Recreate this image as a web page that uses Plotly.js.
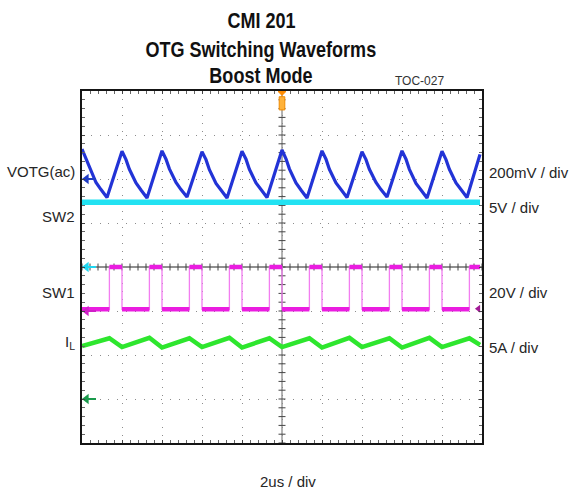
<!DOCTYPE html>
<html>
<head>
<meta charset="utf-8">
<script src="https://cdn.plot.ly/plotly-3.0.1.min.js"></script>
<style>html,body{margin:0;padding:0;background:#fff;}#chart{width:571px;height:492px;}</style>
</head>
<body>
<div id="chart"></div>
<script>
// Time axis in microseconds (2 us / div, 10 div), vertical axis in divisions (8 div)
const votgT = [
  -10, -9.8, -9.63, -9.46, -9.3, -9.05, -8.75,
  -8, -7.8, -7.63, -7.46, -7.3, -7.05, -6.75,
  -6, -5.8, -5.63, -5.46, -5.3, -5.05, -4.75,
  -4, -3.8, -3.63, -3.46, -3.3, -3.05, -2.75,
  -2, -1.8, -1.63, -1.46, -1.3, -1.05, -0.75,
  0, 0.2, 0.37, 0.54, 0.7, 0.95, 1.25,
  2, 2.2, 2.37, 2.54, 2.7, 2.95, 3.25,
  4, 4.2, 4.37, 4.54, 4.7, 4.95, 5.25,
  6, 6.2, 6.37, 6.54, 6.7, 6.95, 7.25,
  8, 8.2, 8.37, 8.54, 8.7, 8.95, 9.25,
  9.9
];
const votgV = [
  2.68, 2.46, 2.24, 2.07, 1.92, 1.76, 1.58,
  2.63, 2.44, 2.22, 2.06, 1.91, 1.75, 1.57,
  2.64, 2.45, 2.23, 2.07, 1.92, 1.76, 1.59,
  2.62, 2.44, 2.21, 2.05, 1.90, 1.75, 1.57,
  2.63, 2.45, 2.22, 2.06, 1.91, 1.76, 1.58,
  2.66, 2.46, 2.23, 2.06, 1.91, 1.75, 1.57,
  2.64, 2.45, 2.22, 2.06, 1.91, 1.76, 1.58,
  2.62, 2.44, 2.22, 2.06, 1.92, 1.76, 1.59,
  2.64, 2.45, 2.22, 2.05, 1.90, 1.75, 1.57,
  2.63, 2.44, 2.22, 2.06, 1.91, 1.76, 1.58,
  2.56
];
const sw2T = [-10, -5, 0, 5, 9.9];
const sw2V = [1.47, 1.47, 1.47, 1.47, 1.47];
const sw1T = [
  -10, -8.63, -8.63, -8, -8, -6.63, -6.63, -6, -6, -4.63, -4.63, -4, -4,
  -2.63, -2.63, -2, -2, -0.63, -0.63, 0, 0, 1.37, 1.37, 2, 2, 3.37, 3.37,
  4, 4, 5.37, 5.37, 6, 6, 7.37, 7.37, 8, 8, 9.37, 9.37, 9.9
];
const sw1V = [
  -0.96, -0.96, 0, 0, -0.96, -0.96, 0, 0, -0.96, -0.96, 0, 0, -0.96,
  -0.96, 0, 0, -0.96, -0.96, 0, 0, -0.96, -0.96, 0, 0, -0.96, -0.96, 0,
  0, -0.96, -0.96, 0, 0, -0.96, -0.96, 0, 0, -0.96, -0.96, 0, 0
];
const ilT = [
  -10, -8.63, -8, -6.63, -6, -4.63, -4, -2.63, -2, -0.63, 0,
  1.37, 2, 3.37, 4, 5.37, 6, 7.37, 8, 9.37, 9.9
];
const ilV = [
  -1.80, -1.62, -1.82, -1.61, -1.83, -1.62, -1.82, -1.61, -1.83, -1.62, -1.82,
  -1.62, -1.83, -1.61, -1.82, -1.62, -1.83, -1.61, -1.82, -1.62, -1.77
];
const leftLabels = ["VOTG(ac)", "SW2", "SW1", "I<sub>L</sub>"];
const leftLabelY = [2.16, 1.14, -0.59, -1.72];
const rightLabels = ["200mV / div", "5V / div", "20V / div", "5A / div"];
const rightLabelY = [2.14, 1.36, -0.57, -1.84];
const refMarkerY = [2.0, 0.0, -1.0, -3.0];
const refMarkerColor = ["#1f3cc4", "#1fd6f0", "#d01fc8", "#1a9a4c"];
const titleLines = ["CMI 201", "OTG Switching Waveforms", "Boost Mode"];

// thick level segments of SW1 (noisy flat parts), thin edges drawn separately
const lvlX = [], lvlY = [];
for (let i = 0; i < sw1T.length - 1; i++) {
  if (sw1V[i] === sw1V[i + 1]) {
    lvlX.push(sw1T[i], sw1T[i + 1], null);
    lvlY.push(sw1V[i], sw1V[i + 1], null);
  }
}

// crosshair minor ticks
const chX = [], chXy = [], chY = [], chYx = [];
for (let k = -25; k <= 25; k++) { chX.push(k * 0.4); chXy.push(0); }
for (let k = -20; k <= 20; k++) { chY.push(k * 0.2); chYx.push(0); }

const traces = [
  {x: chX, y: chXy, mode: 'markers', hoverinfo: 'skip',
   marker: {symbol: 'line-ns', size: 5, line: {width: 1, color: '#444'}}},
  {x: chYx, y: chY, mode: 'markers', hoverinfo: 'skip',
   marker: {symbol: 'line-ew', size: 5, line: {width: 1, color: '#444'}}},
  {x: ilT, y: ilV, mode: 'lines', line: {color: '#2ee62e', width: 4.5}},
  {x: sw1T, y: sw1V, mode: 'lines', line: {color: '#f27ef0', width: 1.3}},
  {x: lvlX, y: lvlY, mode: 'lines', line: {color: '#ea1de0', width: 4.5}},
  {x: sw2T, y: sw2V, mode: 'lines', line: {color: '#22e2f2', width: 5.5}},
  {x: votgT, y: votgV, mode: 'lines', line: {color: '#2233d6', width: 3.2}},
  {x: [9.82], y: [-0.95], mode: 'markers', cliponaxis: false,
   marker: {symbol: 'triangle-left', size: 7, color: '#a21a96'}}
];
// channel reference arrows on the left edge
refMarkerY.forEach((yv, i) => {
  traces.push({x: [-9.85, -9.3], y: [yv, yv], mode: 'lines', cliponaxis: false, hoverinfo: 'skip',
    line: {color: refMarkerColor[i], width: 2}});
  traces.push({x: [-9.78], y: [yv], mode: 'markers', cliponaxis: false, hoverinfo: 'skip',
    marker: {symbol: 'triangle-left', size: 9, color: refMarkerColor[i]}});
});

const annotations = [];
const titleY = [1.2003, 1.119, 1.044];
titleLines.forEach((t, i) => annotations.push({
  text: '<b>' + t + '</b>', xref: 'paper', yref: 'paper', x: 0.4475, y: titleY[i],
  xanchor: 'center', yanchor: 'middle', showarrow: false,
  font: {family: '"Liberation Sans", Arial, sans-serif', size: 22, color: '#111'}
}));
annotations.push({text: 'TOC-027', xref: 'paper', yref: 'paper', x: 0.8425, y: 1.027,
  xanchor: 'center', yanchor: 'middle', showarrow: false,
  font: {family: '"Liberation Sans", Arial, sans-serif', size: 12, color: '#333'}});
leftLabels.forEach((t, i) => annotations.push({
  text: t, xref: 'paper', yref: 'y', x: 0, y: leftLabelY[i], xanchor: 'right', yanchor: 'middle',
  xshift: -5, showarrow: false, font: {family: '"Liberation Sans", Arial, sans-serif', size: 15, color: '#262626'}
}));
rightLabels.forEach((t, i) => annotations.push({
  text: t, xref: 'paper', yref: 'y', x: 1, y: rightLabelY[i], xanchor: 'left', yanchor: 'middle',
  xshift: 5, showarrow: false, font: {family: '"Liberation Sans", Arial, sans-serif', size: 15, color: '#262626'}
}));
annotations.push({text: '2us / div', xref: 'paper', yref: 'paper', x: 0.515, y: -0.11,
  xanchor: 'center', yanchor: 'middle', showarrow: false,
  font: {family: '"Liberation Sans", Arial, sans-serif', size: 15, color: '#262626'}});

const axisCommon = {
  showticklabels: false, zeroline: false, showgrid: true,
  gridcolor: '#8c8c8c', gridwidth: 1,
  ticks: 'inside', ticklen: 3, tickcolor: '#444', tickwidth: 1,
  showline: true, linecolor: '#151515', linewidth: 2, mirror: 'ticks', fixedrange: true
};

const layout = {
  width: 571, height: 492,
  margin: {l: 82, r: 89, t: 91, b: 49},
  paper_bgcolor: '#ffffff', plot_bgcolor: '#ffffff',
  showlegend: false,
  xaxis: Object.assign({}, axisCommon, {range: [-10, 10], tick0: -10, dtick: 2, griddash: '1px,7px',
    minor: {dtick: 0.4, ticks: 'inside', ticklen: 3, tickcolor: '#666', showgrid: false}}),
  yaxis: Object.assign({}, axisCommon, {range: [-4, 4], tick0: -4, dtick: 1, griddash: '1px,7.8px',
    minor: {dtick: 0.2, ticks: 'inside', ticklen: 3, tickcolor: '#666', showgrid: false}}),
  shapes: [
    {type: 'line', xref: 'x', yref: 'y', x0: 0, x1: 0, y0: -4, y1: 4, layer: 'below',
     line: {color: '#666', width: 1}},
    {type: 'line', xref: 'x', yref: 'y', x0: -10, x1: 10, y0: 0, y1: 0, layer: 'below',
     line: {color: '#222', width: 1}},
    {type: 'path', xref: 'x', yref: 'y', path: 'M -0.2,3.99 L 0.2,3.99 L 0,3.9 Z',
     fillcolor: '#ff8c00', line: {color: '#ff8c00', width: 1}},
    {type: 'rect', xref: 'x', yref: 'y', x0: -0.14, x1: 0.14, y0: 3.57, y1: 3.87,
     fillcolor: '#ffb23a', line: {color: '#f08a00', width: 1}}
  ],
  annotations: annotations
};

Plotly.newPlot('chart', traces, layout, {staticPlot: true, displayModeBar: false}).then(() => {
  // condense the bold title lines horizontally (narrow bold face in the reference)
  document.querySelectorAll('#chart text.annotation-text').forEach(el => {
    if (titleLines.indexOf(el.textContent) >= 0) {
      const bb = el.getBBox();
      const cx = bb.x + bb.width / 2;
      const prev = el.getAttribute('transform') || '';
      el.setAttribute('transform', prev + ' translate(' + cx + ',0) scale(0.82,1) translate(' + (-cx) + ',0)');
    }
  });
});
</script>
</body>
</html>
